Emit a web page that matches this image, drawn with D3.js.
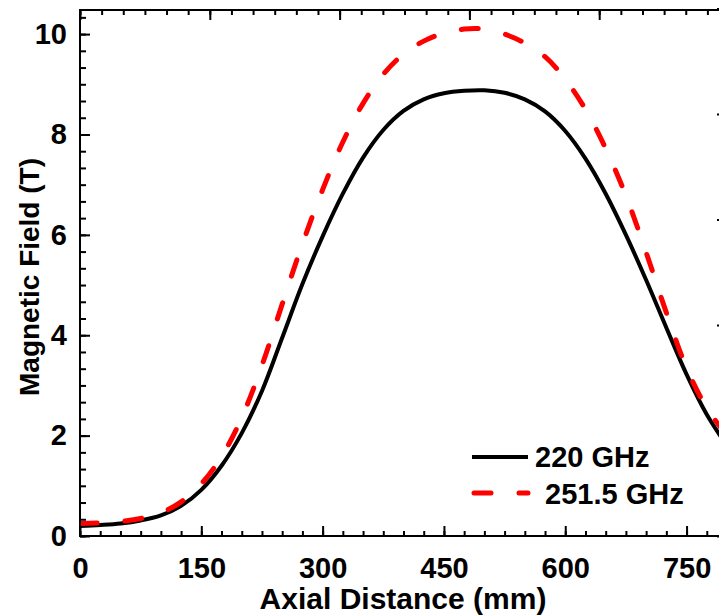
<!DOCTYPE html>
<html><head><meta charset="utf-8">
<script src="https://cdn.jsdelivr.net/npm/d3@7/dist/d3.min.js"></script>
<style>
html,body{margin:0;padding:0;background:#fff;}
svg{display:block;font-family:"Liberation Sans",Arial,sans-serif;font-weight:bold;}
</style></head>
<body><svg id="c" width="719" height="615"></svg>
<script>
// ---- data ----
const axialDistance = [0,25,50,75,100,125,150,175,200,225,250,275,300,325,350,375,400,425,450,475,500,525,550,575,600,625,650,675,700,725,750,775,800];
const field220 =   [0.20,0.22,0.25,0.31,0.41,0.60,0.92,1.40,2.05,2.89,3.95,5.02,5.97,6.82,7.54,8.09,8.47,8.70,8.82,8.87,8.88,8.83,8.70,8.46,8.07,7.52,6.82,6.00,5.10,4.15,3.22,2.42,1.80];
const field2515 =  [0.25,0.26,0.29,0.35,0.46,0.68,1.04,1.58,2.36,3.40,4.62,5.82,6.90,7.85,8.62,9.20,9.60,9.86,10.02,10.10,10.10,10.00,9.82,9.55,9.10,8.50,7.72,6.78,5.65,4.45,3.35,2.55,2.00];
const seriesNames = ["220 GHz","251.5 GHz"];
const xTicks = [0,150,300,450,600,750];
const yTicks = [0,2,4,6,8,10];
const xTitle = "Axial Distance (mm)";
const yTitle = "Magnetic Field (T)";

// ---- layout ----
const svg = d3.select("#c");
const L = 80, R = 727, T = 10, B = 536;
const x = d3.scaleLinear().domain([0,800]).range([L,R]);
const y = d3.scaleLinear().domain([0,10.48]).range([B,T]);
// mirrored (linked) top/right axes, slightly different scale as in the source
const xTop = d3.scaleLinear().domain([0,800]).range([L, L + (R-L)*1.07]);
const yRight = d3.scaleLinear().domain([0,10.48]).range([B, B - (B-T)*1.051]);
const FS = 29;

svg.append("defs").append("clipPath").attr("id","pc")
  .append("rect").attr("x",L).attr("y",T).attr("width",R-L).attr("height",B-T);

const line = d3.line().x((d,i)=>x(axialDistance[i])).y(d=>y(d)).curve(d3.curveCatmullRom.alpha(0.5));

const g = svg.append("g").attr("clip-path","url(#pc)");
g.append("path").datum(field220).attr("d",line).attr("fill","none")
  .attr("stroke","#000").attr("stroke-width",4);
g.append("path").datum(field2515).attr("d",line).attr("fill","none")
  .attr("stroke","#ff0000").attr("stroke-width",5)
  .attr("stroke-dasharray","17,28").attr("stroke-linecap","round");

function styleAxis(sel){
  sel.select(".domain").remove();
  sel.selectAll(".tick line").attr("stroke","#000").attr("stroke-width",2);
  sel.selectAll("text").attr("font-size",FS).attr("font-weight","bold")
     .attr("font-family","'Liberation Sans',Arial,sans-serif").attr("fill","#000");
}
const minorX = d3.range(0,801,25);
const minorY = d3.range(0,10.5,1/3);

// bottom
svg.append("g").attr("transform",`translate(0,${B})`)
  .call(d3.axisBottom(x).tickValues(minorX).tickSizeInner(-5).tickSizeOuter(0).tickFormat(""))
  .call(styleAxis);
svg.append("g").attr("transform",`translate(0,${B})`)
  .call(d3.axisBottom(x).tickValues(xTicks).tickSizeInner(-10).tickSizeOuter(0).tickPadding(21))
  .call(styleAxis);
// top
svg.append("g").attr("transform",`translate(0,${T})`)
  .call(d3.axisTop(xTop).tickValues(minorX).tickSizeInner(-5).tickSizeOuter(0).tickFormat(""))
  .call(styleAxis);
svg.append("g").attr("transform",`translate(0,${T})`)
  .call(d3.axisTop(xTop).tickValues(xTicks).tickSizeInner(-10).tickSizeOuter(0).tickFormat(""))
  .call(styleAxis);
// left
svg.append("g").attr("transform",`translate(${L},0)`)
  .call(d3.axisLeft(y).tickValues(minorY).tickSizeInner(-6).tickSizeOuter(0).tickFormat(""))
  .call(styleAxis);
svg.append("g").attr("transform",`translate(${L},0)`)
  .call(d3.axisLeft(y).tickValues(yTicks).tickSizeInner(-10).tickSizeOuter(0).tickPadding(13))
  .call(styleAxis);
// right
svg.append("g").attr("transform",`translate(${R},0)`)
  .call(d3.axisRight(yRight).tickValues(minorY).tickSizeInner(-6).tickSizeOuter(0).tickFormat(""))
  .call(styleAxis);
svg.append("g").attr("transform",`translate(${R},0)`)
  .call(d3.axisRight(yRight).tickValues(yTicks).tickSizeInner(-10).tickSizeOuter(0).tickFormat(""))
  .call(styleAxis);

// frame
svg.append("rect").attr("x",L).attr("y",T).attr("width",R-L).attr("height",B-T)
  .attr("fill","none").attr("stroke","#000").attr("stroke-width",2);

// titles
svg.append("text").attr("x",403).attr("y",609).attr("text-anchor","middle")
  .attr("font-size",30).text(xTitle);
svg.append("text").attr("transform",`translate(39,277) rotate(-90)`).attr("text-anchor","middle")
  .attr("font-size",FS-1).text(yTitle);

// legend
const lg = svg.append("g");
lg.append("line").attr("x1",472).attr("x2",528).attr("y1",457).attr("y2",457)
  .attr("stroke","#000").attr("stroke-width",4);
lg.append("text").attr("x",535).attr("y",467).attr("font-size",FS).text(seriesNames[0]);
lg.append("line").attr("x1",474).attr("x2",528).attr("y1",493).attr("y2",493)
  .attr("stroke","#ff0000").attr("stroke-width",5)
  .attr("stroke-dasharray","17,28").attr("stroke-linecap","round");
lg.append("text").attr("x",545).attr("y",504).attr("font-size",FS).text(seriesNames[1]);
</script></body></html>
